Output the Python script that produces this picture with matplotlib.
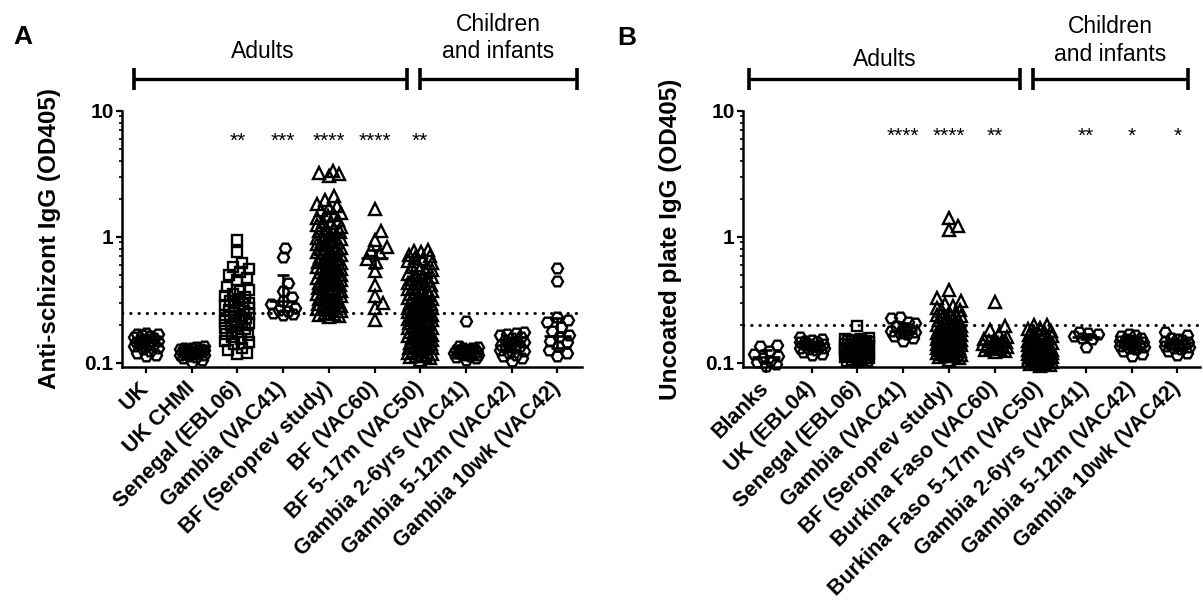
import numpy as np
import matplotlib
matplotlib.use("Agg")
import matplotlib.pyplot as plt
from matplotlib.ticker import FixedLocator, FixedFormatter, LogLocator, NullFormatter
from matplotlib.transforms import blended_transform_factory

plt.rcParams["font.family"] = ["Liberation Sans", "DejaVu Sans"]

# ---------------- data, panel A (anti-schizont IgG, OD405) ----------------
labels_a = ["UK", "UK CHMI", "Senegal (EBL06)", "Gambia (VAC41)", "BF (Seroprev study)",
            "BF (VAC60)", "BF 5-17m (VAC50)", "Gambia 2-6yrs (VAC41)",
            "Gambia 5-12m (VAC42)", "Gambia 10wk (VAC42)"]
markers_a = ["H", "H", "s", "H", "^", "^", "^", "H", "H", "H"]
stars_a = ["", "", "**", "***", "****", "****", "**", "", "", ""]
cutoff_a = 0.25

a_uk = [0.172, 0.170, 0.168, 0.166, 0.163, 0.160, 0.158, 0.155, 0.152, 0.150, 0.148, 0.146,
        0.144, 0.142, 0.140, 0.138, 0.135, 0.132, 0.128, 0.124, 0.120, 0.116, 0.113]
a_ukchmi = [0.136, 0.134, 0.132, 0.130, 0.129, 0.128, 0.127, 0.126, 0.125, 0.124, 0.123, 0.122,
            0.122, 0.121, 0.120, 0.120, 0.119, 0.118, 0.117, 0.116, 0.115, 0.113, 0.111, 0.108,
            0.105, 0.102]
a_senegal = [0.94, 0.76, 0.62, 0.58, 0.55, 0.52, 0.50, 0.47, 0.45, 0.40, 0.38, 0.37, 0.35, 0.34,
             0.33, 0.32, 0.31, 0.30, 0.29, 0.285, 0.28, 0.27, 0.265, 0.26, 0.255, 0.25, 0.245,
             0.24, 0.235, 0.23, 0.225, 0.22, 0.215, 0.21, 0.205, 0.20, 0.195, 0.19, 0.185, 0.18,
             0.175, 0.17, 0.165, 0.16, 0.155, 0.15, 0.145, 0.14, 0.13, 0.125, 0.12, 0.118]
a_gambia41 = [0.82, 0.69, 0.43, 0.37, 0.33, 0.31, 0.29, 0.27, 0.26, 0.255, 0.25, 0.245, 0.24]
a_seroprev = [3.30, 3.20, 3.15, 3.05,
              2.10, 1.95, 1.82, 1.75, 1.70, 1.62, 1.55, 1.50, 1.45, 1.40, 1.36, 1.32, 1.28, 1.24,
              1.20, 1.17, 1.14, 1.11, 1.08, 1.05, 1.03, 1.00,
              0.98, 0.96, 0.94, 0.92, 0.90, 0.88, 0.86, 0.84, 0.82, 0.80, 0.78, 0.77, 0.75, 0.74,
              0.72, 0.71, 0.69, 0.68, 0.67, 0.65, 0.64, 0.63, 0.62, 0.60,
              0.59, 0.58, 0.57, 0.56, 0.55, 0.54, 0.53, 0.52, 0.51, 0.50, 0.49, 0.48, 0.47, 0.46,
              0.45, 0.44, 0.435, 0.43, 0.42, 0.41,
              0.40, 0.395, 0.39, 0.38, 0.37, 0.365, 0.36, 0.35, 0.345, 0.34, 0.33, 0.325, 0.32,
              0.31, 0.305, 0.30, 0.295, 0.29, 0.285, 0.28,
              0.275, 0.27, 0.265, 0.26, 0.255, 0.25, 0.245, 0.24, 0.235, 0.23]
a_vac60 = [1.65, 1.10, 0.95, 0.83, 0.79, 0.74, 0.67, 0.63, 0.53, 0.41, 0.34, 0.30, 0.27, 0.22]
a_vac50 = [0.78, 0.77, 0.76, 0.72, 0.70, 0.68, 0.66, 0.64, 0.62, 0.60, 0.58, 0.57, 0.55, 0.54,
           0.52, 0.51, 0.50, 0.48, 0.47, 0.46, 0.45, 0.44, 0.43, 0.42, 0.41, 0.40, 0.39, 0.385,
           0.38, 0.37, 0.365, 0.36, 0.35, 0.345, 0.34, 0.335, 0.33, 0.325, 0.32, 0.315, 0.31,
           0.305, 0.30, 0.295, 0.29, 0.285, 0.28, 0.277, 0.274, 0.27, 0.266, 0.262, 0.258, 0.255,
           0.252, 0.248, 0.245, 0.242, 0.238, 0.235, 0.232, 0.229, 0.226, 0.223, 0.22, 0.217,
           0.214, 0.211, 0.208, 0.205, 0.202, 0.199, 0.196, 0.193, 0.19, 0.187, 0.184, 0.181,
           0.178, 0.176, 0.174, 0.172, 0.17, 0.168, 0.166, 0.164, 0.162, 0.16, 0.158, 0.156,
           0.154, 0.152, 0.15, 0.148, 0.146, 0.144, 0.142, 0.14, 0.138, 0.136, 0.134, 0.132,
           0.13, 0.128, 0.126, 0.124, 0.122, 0.12, 0.118, 0.116, 0.114, 0.112, 0.11, 0.108, 0.106]
a_g26 = [0.215, 0.135, 0.133, 0.131, 0.13, 0.128, 0.127, 0.126, 0.125, 0.124, 0.123, 0.122,
         0.121, 0.12, 0.12, 0.119, 0.118, 0.117, 0.116, 0.115, 0.113, 0.111, 0.108, 0.105]
a_g512 = [0.176, 0.172, 0.168, 0.165, 0.16, 0.156, 0.152, 0.148, 0.145, 0.142, 0.139, 0.136,
          0.133, 0.13, 0.127, 0.124, 0.12, 0.116, 0.112, 0.108, 0.104]
a_g10wk = [0.56, 0.445, 0.232, 0.218, 0.21, 0.193, 0.18, 0.165, 0.16, 0.15, 0.145, 0.135,
           0.125, 0.119, 0.113]
groups_a = [a_uk, a_ukchmi, a_senegal, a_gambia41, a_seroprev, a_vac60, a_vac50,
            a_g26, a_g512, a_g10wk]
# median with interquartile range
med_a = [0.145, 0.122, 0.24, 0.31, 0.60, 0.68, 0.22, 0.12, 0.138, 0.164]
lo_a = [0.135, 0.117, 0.19, 0.255, 0.40, 0.56, 0.16, 0.116, 0.125, 0.13]
hi_a = [0.16, 0.127, 0.34, 0.50, 0.95, 0.78, 0.32, 0.126, 0.155, 0.225]

# ---------------- data, panel B (uncoated plate IgG, OD405) ----------------
labels_b = ["Blanks", "UK (EBL04)", "Senegal (EBL06)", "Gambia (VAC41)", "BF (Seroprev study)",
            "Burkina Faso (VAC60)", "Burkina Faso 5-17m (VAC50)", "Gambia 2-6yrs (VAC41)",
            "Gambia 5-12m (VAC42)", "Gambia 10wk (VAC42)"]
markers_b = ["H", "H", "s", "H", "^", "^", "^", "H", "H", "H"]
stars_b = ["", "", "", "****", "****", "**", "", "**", "*", "*"]
cutoff_b = 0.2

b_blanks = [0.138, 0.136, 0.124, 0.117, 0.113, 0.108, 0.104, 0.101, 0.097, 0.095]
b_uk04 = [0.16, 0.155, 0.152, 0.15, 0.147, 0.145, 0.142, 0.14, 0.138, 0.136, 0.134, 0.132,
          0.13, 0.128, 0.125, 0.122, 0.118, 0.115]
b_senegal = [0.197, 0.157, 0.155, 0.153, 0.152, 0.15, 0.149, 0.148, 0.146, 0.145, 0.144, 0.142,
             0.141, 0.14, 0.138, 0.137, 0.136, 0.135, 0.134, 0.132, 0.131, 0.13, 0.129, 0.128,
             0.127, 0.126, 0.125, 0.124, 0.123, 0.122, 0.121, 0.12, 0.119, 0.118, 0.117, 0.116,
             0.115, 0.114, 0.113, 0.112, 0.111, 0.11, 0.109, 0.108, 0.107, 0.106, 0.105, 0.104,
             0.103, 0.102]
b_gambia41 = [0.232, 0.228, 0.21, 0.205, 0.195, 0.19, 0.185, 0.18, 0.176, 0.172, 0.168, 0.163,
              0.157, 0.15]
b_seroprev = [1.40, 1.22, 1.13, 0.38, 0.325, 0.31, 0.295, 0.28, 0.27, 0.262, 0.255, 0.25, 0.245,
              0.24, 0.235, 0.23, 0.226, 0.222, 0.218, 0.214, 0.21, 0.206, 0.202, 0.199, 0.196,
              0.193, 0.19, 0.188, 0.186, 0.184, 0.182, 0.18, 0.178, 0.176, 0.174, 0.172, 0.17,
              0.168, 0.167, 0.166, 0.164, 0.163, 0.162, 0.16, 0.159, 0.158, 0.157, 0.156, 0.155,
              0.154, 0.153, 0.152, 0.151, 0.15, 0.149, 0.148, 0.147, 0.146, 0.145, 0.144, 0.143,
              0.142, 0.141, 0.14, 0.139, 0.138, 0.137, 0.136, 0.135, 0.134, 0.133, 0.132, 0.131,
              0.13, 0.129, 0.128, 0.127, 0.126, 0.125, 0.124, 0.123, 0.122, 0.121, 0.12, 0.119,
              0.118, 0.117, 0.116, 0.115, 0.114, 0.112, 0.11, 0.108, 0.106]
b_vac60 = [0.305, 0.195, 0.182, 0.17, 0.16, 0.155, 0.152, 0.15, 0.148, 0.146, 0.144, 0.142,
           0.14, 0.138, 0.136, 0.134, 0.132, 0.13, 0.128, 0.126, 0.124, 0.122]
b_vac50 = [0.20, 0.198, 0.19, 0.185, 0.18, 0.176, 0.172, 0.168, 0.165, 0.162, 0.159, 0.156,
           0.153, 0.15, 0.148, 0.146, 0.144, 0.142, 0.14, 0.138, 0.136, 0.134, 0.132, 0.13,
           0.129, 0.128, 0.127, 0.126, 0.125, 0.124, 0.123, 0.122, 0.121, 0.12, 0.119, 0.118,
           0.117, 0.116, 0.115, 0.114, 0.113, 0.112, 0.111, 0.11, 0.109, 0.108, 0.107, 0.106,
           0.105, 0.104, 0.103, 0.102, 0.101, 0.1, 0.099, 0.098, 0.097, 0.096, 0.095]
b_g26 = [0.176, 0.172, 0.168, 0.162, 0.157, 0.153, 0.133]
b_g512 = [0.17, 0.166, 0.162, 0.158, 0.155, 0.152, 0.15, 0.148, 0.146, 0.144, 0.142, 0.14,
          0.138, 0.136, 0.134, 0.131, 0.128, 0.124, 0.118, 0.113]
b_g10wk = [0.176, 0.165, 0.157, 0.154, 0.151, 0.148, 0.146, 0.144, 0.142, 0.14, 0.138, 0.136,
           0.134, 0.131, 0.128, 0.124, 0.12, 0.116]
groups_b = [b_blanks, b_uk04, b_senegal, b_gambia41, b_seroprev, b_vac60, b_vac50,
            b_g26, b_g512, b_g10wk]
med_b = [0.11, 0.135, 0.125, 0.18, 0.15, 0.14, 0.125, 0.16, 0.143, 0.14]
lo_b = [0.10, 0.128, 0.115, 0.165, 0.13, 0.132, 0.11, 0.153, 0.134, 0.13]
hi_b = [0.125, 0.145, 0.15, 0.205, 0.18, 0.15, 0.15, 0.17, 0.152, 0.148]

W, H = 1203, 600
PX_DECADE = 126.0   # pixels per decade on the y axis
PX_UNIT = 45.7      # pixels between categories


def swarm(vals, r=9.5, wmax=12.5, step=1.0):
    """beeswarm-like x offsets (in category units), limited width like Prism"""
    ys = np.log10(np.asarray(vals, float)) * PX_DECADE
    xs = np.zeros(len(ys))
    cands = [0.0]
    k = 1
    while k * step <= wmax:
        cands += [k * step, -k * step]
        k += 1
    placed = []
    for i in np.argsort(ys):
        y = ys[i]
        best, best_d = 0.0, -1
        for c in cands:
            d = min([np.hypot(c - px, y - py) for px, py in placed if abs(y - py) < r] or [1e9])
            if d >= r:
                best = c
                break
            if d > best_d:
                best, best_d = c, d
        placed.append((best, y))
        xs[i] = best / PX_UNIT
    return xs


fig = plt.figure(figsize=(W / 100, H / 100), dpi=100)


def add_ax(left, right, top=110.7, bottom=367.0):
    return fig.add_axes([left / W, 1 - bottom / H, (right - left) / W, (bottom - top) / H])


def draw_panel(ax, groups, labels, markers, meds, los, his, stars, cutoff, ylabel,
               x0px, star_y, left_px, right_px):
    n = len(groups)
    ax.set_yscale("log")
    ax.set_ylim(10 ** (-(367.0 - 236.7) / PX_DECADE), 10)
    for i, (vals, mk) in enumerate(zip(groups, markers)):
        xo = swarm(vals)
        ms = 7.2 if mk == "s" else (8.4 if mk == "^" else 8.0)
        ax.plot(i + xo, vals, ls="none", marker=mk, ms=ms, mfc="none", mec="black",
                mew=1.7, zorder=3, clip_on=False)
    x = np.arange(n)
    ax.hlines(meds, x - 0.3, x + 0.3, color="black", lw=1.9, zorder=4)
    ax.vlines(x, los, his, color="black", lw=1.9, zorder=4)
    ax.hlines(los, x - 0.14, x + 0.14, color="black", lw=1.9, zorder=4)
    ax.hlines(his, x - 0.14, x + 0.14, color="black", lw=1.9, zorder=4)
    ax.axhline(cutoff, color="black", lw=2.2, ls=(0, (0.1, 2.6)), dash_capstyle="round",
               zorder=2)
    for i, s in enumerate(stars):
        if s:
            ax.text(i, star_y, s, ha="center", va="baseline", fontsize=15)
    ax.set_xticks(x)
    ax.set_xticklabels(labels, rotation=45, ha="right", va="center",
                       rotation_mode="anchor", fontsize=15.5, fontweight="bold")
    ax.yaxis.set_major_locator(FixedLocator([0.1, 1, 10]))
    ax.yaxis.set_major_formatter(FixedFormatter(["0.1", "1", "10"]))
    ax.yaxis.set_minor_locator(LogLocator(base=10, subs=np.arange(2, 10)))
    ax.yaxis.set_minor_formatter(NullFormatter())
    for t in ax.get_yticklabels():
        t.set_fontweight("bold")
    ax.tick_params(axis="y", which="major", labelsize=15, length=4, width=1.6, pad=2)
    ax.tick_params(axis="y", which="minor", length=2.5, width=1.2)
    ax.tick_params(axis="x", length=4, width=1.6, pad=9)
    for side in ("top", "right"):
        ax.spines[side].set_visible(False)
    for side in ("left", "bottom"):
        ax.spines[side].set_linewidth(1.8)
    ax.set_xlim((left_px - x0px) / PX_UNIT, (right_px - x0px) / PX_UNIT)
    ax.set_ylabel(ylabel, fontsize=17.5, fontweight="bold", labelpad=17)


def bracket(ax, x1, x2, ypx=79, tick=11.5):
    tr = blended_transform_factory(ax.transData, fig.transFigure)
    y = 1 - ypx / H
    ax.plot([x1, x2], [y, y], color="black", lw=2.4, transform=tr, clip_on=False,
            solid_capstyle="butt")
    for xx in (x1, x2):
        ax.plot([xx, xx], [y - tick / H, y + tick / H], color="black", lw=2.6,
                transform=tr, clip_on=False, solid_capstyle="butt")


ax_a = add_ax(122, 582)
ax_b = add_ax(743, 1200)

draw_panel(ax_a, groups_a, labels_a, markers_a, med_a, lo_a, hi_a, stars_a, cutoff_a,
           "Anti-schizont IgG (OD405)", 146, 5.15, 122, 582)
draw_panel(ax_b, groups_b, labels_b, markers_b, med_b, lo_b, hi_b, stars_b, cutoff_b,
           "Uncoated plate IgG (OD405)", 766, 5.7, 743, 1200)

# group brackets
bracket(ax_a, -0.26, 5.71)
bracket(ax_a, 6.0, 9.43)
bracket(ax_b, -0.37, 5.56)
bracket(ax_b, 5.84, 9.23)
tra = blended_transform_factory(ax_a.transData, fig.transFigure)
trb = blended_transform_factory(ax_b.transData, fig.transFigure)
ax_a.text(2.56, 1 - 52 / H, "Adults", transform=tra, ha="center", va="center", fontsize=16.5)
ax_a.text(7.70, 1 - 38 / H, "Children\nand infants", transform=tra, ha="center",
          va="center", fontsize=16.5, linespacing=1.25)
ax_b.text(2.60, 1 - 60 / H, "Adults", transform=trb, ha="center", va="center", fontsize=16.5)
ax_b.text(7.53, 1 - 40.5 / H, "Children\nand infants", transform=trb, ha="center",
          va="center", fontsize=16.5, linespacing=1.25)

fig.text(23 / W, 1 - 37 / H, "A", ha="center", va="center", fontsize=19, fontweight="bold")
fig.text(627 / W, 1 - 38 / H, "B", ha="center", va="center", fontsize=19, fontweight="bold")

fig.savefig("out.png", dpi=100)
